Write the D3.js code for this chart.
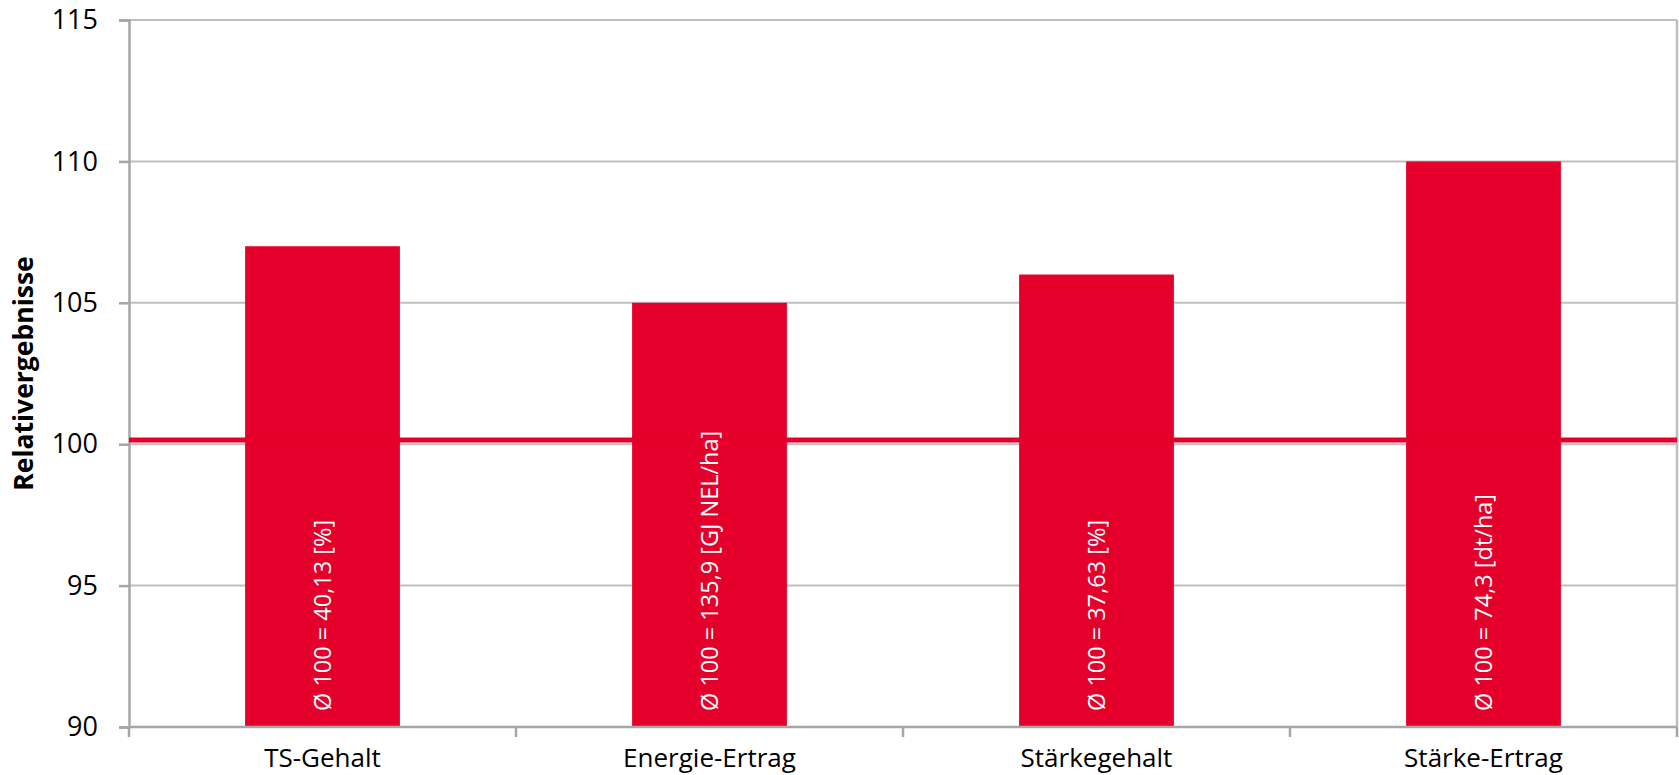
<!DOCTYPE html>
<html>
<head>
<meta charset="utf-8">
<script src="https://cdn.jsdelivr.net/npm/d3@7"></script>
<style>
  html, body { margin: 0; padding: 0; background: #fff; }
  svg { display: block; }
  text { font-family: "Open Sans", "Liberation Sans", sans-serif; }
</style>
</head>
<body>
<svg id="chart" width="1679" height="775"></svg>
<script>
const categories = ["TS-Gehalt", "Energie-Ertrag", "Stärkegehalt", "Stärke-Ertrag"];
const relValues = [107, 105, 106, 110];
const barLabels = [
  "Ø 100 = 40,13 [%]",
  "Ø 100 = 135,9 [GJ NEL/ha]",
  "Ø 100 = 37,63 [%]",
  "Ø 100 = 74,3 [dt/ha]"
];
const referenceLine = [100.15];
const yTicks = [90, 95, 100, 105, 110, 115];
const yTitle = "Relativergebnisse";

(function () {
const svg = d3.select("#chart");
const mLeft = 129, mRight = 1677, mTop = 20, mBottom = 727;

const x = d3.scaleBand().domain(categories).range([mLeft, mRight]).padding(0);
const y = d3.scaleLinear().domain([90, 115]).range([mBottom, mTop]);

const gridColor = "#bfbfbf", axisColor = "#a6a6a6", red = "#e5002b";

// gridlines
svg.append("g").selectAll("line").data(yTicks).join("line")
  .attr("x1", mLeft).attr("x2", mRight)
  .attr("y1", d => y(d)).attr("y2", d => y(d))
  .attr("stroke", gridColor).attr("stroke-width", 2);

// right border
svg.append("line")
  .attr("x1", mRight).attr("x2", mRight)
  .attr("y1", y(115)).attr("y2", y(90))
  .attr("stroke", gridColor).attr("stroke-width", 2.5);

// y axis
const yAxis = d3.axisLeft(y).tickValues(yTicks).tickSize(10).tickPadding(21).tickFormat(d3.format("d"));
const gy = svg.append("g").attr("transform", `translate(${mLeft},0)`).call(yAxis);
gy.select(".domain").attr("stroke", axisColor).attr("stroke-width", 2.5);
gy.selectAll(".tick line").attr("stroke", axisColor).attr("stroke-width", 2.5);
gy.selectAll(".tick text").attr("font-size", 27).attr("fill", "#000")
  .style("font-family", "'Open Sans', sans-serif");

// bars
const barW = x.bandwidth() * 0.4;
svg.append("g").selectAll("rect").data(relValues).join("rect")
  .attr("x", (d, i) => x(categories[i]) + (x.bandwidth() - barW) / 2)
  .attr("width", barW)
  .attr("y", d => y(d))
  .attr("height", d => y(90) - y(d))
  .attr("fill", red);

// reference line
svg.append("g").selectAll("line").data(referenceLine).join("line")
  .attr("x1", mLeft).attr("x2", mRight)
  .attr("y1", d => y(d)).attr("y2", d => y(d))
  .attr("stroke", red).attr("stroke-width", 5);

// bar labels
svg.append("g").selectAll("text").data(barLabels).join("text")
  .attr("transform", (d, i) => `translate(${x(categories[i]) + x.bandwidth() / 2 + 8.5},${y(90) - 16}) rotate(-90)`)
  .attr("text-anchor", "start")
  .attr("font-size", 23.5)
  .attr("fill", "#fff")
  .text(d => d);

// x axis
const xAxisScale = d3.scalePoint().domain(d3.range(categories.length + 1)).range([mLeft, mRight]);
const gx = svg.append("g").attr("transform", `translate(0,${mBottom})`);
gx.append("line").attr("x1", mLeft).attr("x2", mRight).attr("y1", 0).attr("y2", 0)
  .attr("stroke", axisColor).attr("stroke-width", 2.5);
gx.selectAll(".tk").data(d3.range(categories.length + 1)).join("line")
  .attr("class", "tk")
  .attr("x1", d => xAxisScale(d)).attr("x2", d => xAxisScale(d))
  .attr("y1", 0).attr("y2", 10)
  .attr("stroke", axisColor).attr("stroke-width", 2.5);
gx.selectAll(".lbl").data(categories).join("text")
  .attr("class", "lbl")
  .attr("x", d => x(d) + x.bandwidth() / 2)
  .attr("y", 39.5)
  .attr("text-anchor", "middle")
  .attr("font-size", 26)
  .attr("fill", "#000")
  .text(d => d);

// y title
svg.append("text")
  .attr("transform", `translate(33,${(y(90) + y(115)) / 2}) rotate(-90)`)
  .attr("text-anchor", "middle")
  .attr("font-size", 26.5)
  .attr("font-weight", "bold")
  .attr("fill", "#000")
  .text(yTitle);
})();
</script>
</body>
</html>
